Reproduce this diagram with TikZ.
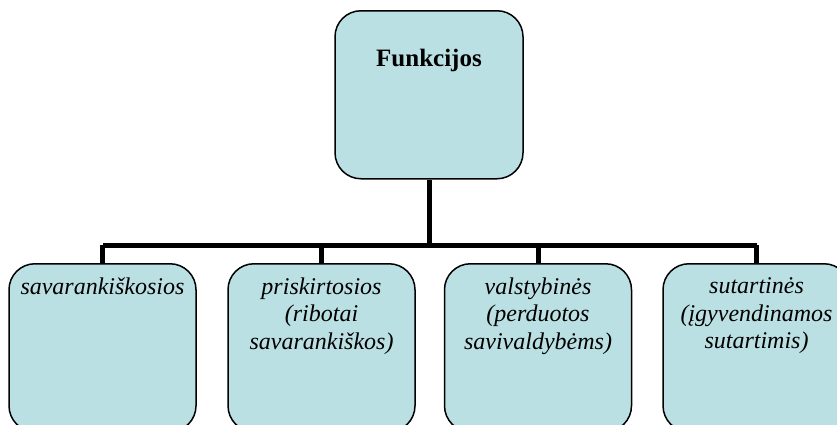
\documentclass[tikz,border=0pt]{standalone}
\usepackage{fontspec}
\setmainfont{Liberation Serif}
\definecolor{boxfill}{RGB}{187,224,227}
\begin{document}
\begin{tikzpicture}[x=1pt,y=-1pt,
  box/.style={draw=black, line width=1.5pt, fill=boxfill, rounded corners=26pt,
    minimum width=187pt, minimum height=168pt, anchor=north, inner sep=0pt},
  toplbl/.style={anchor=north, inner sep=0pt, font=\fontsize{25}{28}\selectfont\bfseries},
  lbl/.style={anchor=north, inner sep=0pt, align=center, font=\fontsize{24}{27.5}\selectfont\itshape},
  conn/.style={draw=black, line width=5pt}]
\clip (0,0) rectangle (837,424);
\fill[white] (0,0) rectangle (837,424);
\node[box, minimum width=188pt, label={[toplbl, yshift=-39pt]north:Funkcijos}] (top) at (429,10) {};
\node[box, label={[lbl, yshift=-14.6pt]north:savarankiškosios}] (c1) at (102.5,263) {};
\node[box, label={[lbl, yshift=-14.6pt]north:priskirtosios\\(ribotai\\savarankiškos)}] (c2) at (321.5,263) {};
\node[box, label={[lbl, yshift=-14.6pt]north:valstybinės\\(perduotos\\savivaldybėms)}] (c3) at (538,263) {};
\node[box, label={[lbl, yshift=-14.6pt]north:sutartinės\\(įgyvendinamos\\sutartimis)}] (c4) at (756.5,263) {};
\coordinate (bus) at (429,245);
\draw[conn] (top.south) -- (bus);
\draw[conn] (c1.north |- bus) -- (c4.north |- bus);
\draw[conn] (c1.north) -- (c1.north |- bus);
\draw[conn] (c2.north) -- (c2.north |- bus);
\draw[conn] (c3.north) -- (c3.north |- bus);
\draw[conn] (c4.north) -- (c4.north |- bus);
\end{tikzpicture}
\end{document}
